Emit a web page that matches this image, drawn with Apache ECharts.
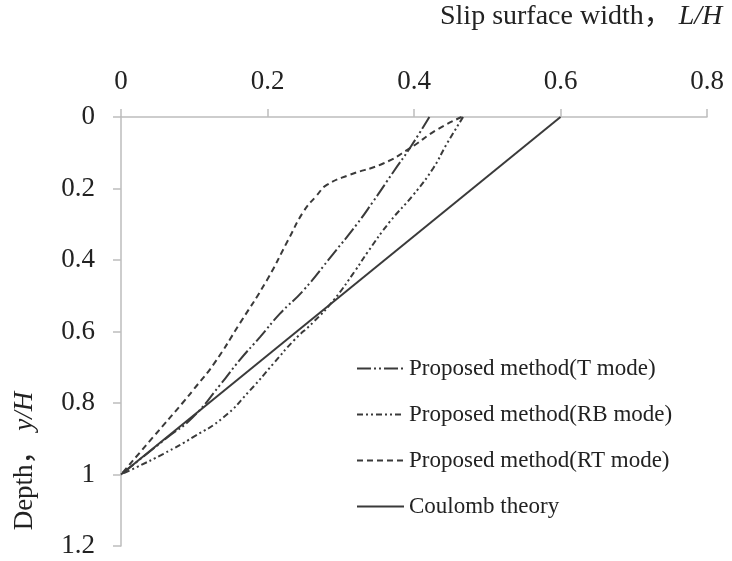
<!DOCTYPE html>
<html>
<head>
<meta charset="utf-8">
<script src="https://cdn.jsdelivr.net/npm/echarts@6/dist/echarts.min.js"></script>
<style>
  html, body { margin: 0; padding: 0; background: #fff; }
  #chart { width: 732px; height: 561px; }
</style>
</head>
<body>
<div id="chart"></div>
<script>
// x ticks (slip surface width L/H) and y ticks (depth y/H)
const widthTicks = [0, 0.2, 0.4, 0.6, 0.8];
const depthTicks = [0, 0.2, 0.4, 0.6, 0.8, 1, 1.2];

const seriesNames = [
    'Proposed method(T mode)',
    'Proposed method(RB mode)',
    'Proposed method(RT mode)',
    'Coulomb theory'
];

// T mode
const depthT = [0, 0.088, 0.153, 0.237, 0.30, 0.382, 0.485, 0.55, 0.615, 0.68, 0.75, 0.84, 0.9, 1.0];
const widthT = [0.421, 0.394, 0.372, 0.344, 0.322, 0.29, 0.249, 0.217, 0.19, 0.162, 0.135, 0.098, 0.061, 0];

// RB mode
const depthRB = [0, 0.078, 0.144, 0.218, 0.293, 0.377, 0.429, 0.513, 0.573, 0.625, 0.69, 0.765, 0.84, 0.895, 0.942, 0.98, 1];
const widthRB = [0.467, 0.444, 0.426, 0.399, 0.367, 0.337, 0.32, 0.29, 0.263, 0.236, 0.208, 0.176, 0.14, 0.099, 0.058, 0.021, 0];

// RT mode
const depthRT = [0, 0.036, 0.088, 0.13, 0.162, 0.19, 0.22, 0.265, 0.345, 0.457, 0.578, 0.69, 0.76, 0.8, 0.895, 1];
const widthRT = [0.465, 0.431, 0.394, 0.358, 0.312, 0.281, 0.267, 0.249, 0.228, 0.199, 0.162, 0.127, 0.1, 0.084, 0.044, 0];

// Coulomb theory
const depthC = [0, 1];
const widthC = [0.6, 0];

const pairs = (w, d) => d.map((v, i) => [w[i], v]);

const serif = '"Liberation Serif", "Times New Roman", "Noto Sans CJK SC", serif';
const lineColor = '#3a3a3a';
const axisColor = '#bdbdbd';

const chart = echarts.init(document.getElementById('chart'));

const mkLine = (name, data, type, smooth) => ({
    name: name,
    type: 'line',
    data: data,
    symbol: 'none',
    smooth: smooth,
    lineStyle: { color: lineColor, width: 2, type: type },
    itemStyle: { color: lineColor },
    animation: false
});

chart.setOption({
    backgroundColor: '#fff',
    grid: { left: 121, right: 25, top: 117, bottom: 15, outerBoundsMode: 'none' },
    xAxis: {
        type: 'value',
        position: 'top',
        min: widthTicks[0],
        max: widthTicks[widthTicks.length - 1],
        interval: 0.2,
        axisLine: { show: true, lineStyle: { color: axisColor, width: 1.5 } },
        axisTick: { show: true, length: 8, lineStyle: { color: axisColor, width: 1.5 } },
        axisLabel: { color: '#222', fontFamily: serif, fontSize: 27, margin: 22 },
        splitLine: { show: false }
    },
    yAxis: {
        type: 'value',
        inverse: true,
        min: depthTicks[0],
        max: depthTicks[depthTicks.length - 1],
        interval: 0.2,
        axisLine: { show: true, lineStyle: { color: axisColor, width: 1.5 } },
        axisTick: { show: true, length: 8, lineStyle: { color: axisColor, width: 1.5 } },
        axisLabel: { color: '#222', fontFamily: serif, fontSize: 27, margin: 26 },
        splitLine: { show: false }
    },
    legend: {
        orient: 'vertical',
        left: 351,
        top: 352,
        itemGap: 23,
        itemWidth: 47,
        itemHeight: 14,
        data: seriesNames,
        itemStyle: { color: 'transparent', borderWidth: 0, opacity: 0 },
        textStyle: { color: '#222', fontFamily: serif, fontSize: 23 }
    },
    graphic: [
        {
            type: 'text',
            left: 440,
            top: 3,
            style: {
                text: 'Slip surface width， {i|L/H}',
                fill: '#222',
                fontFamily: serif,
                fontSize: 28,
                rich: { i: { fontStyle: 'italic', fontFamily: serif, fontSize: 28, fill: '#222' } }
            }
        },
        {
            type: 'text',
            x: 25,
            y: 461,
            rotation: Math.PI / 2,
            style: {
                text: 'Depth， {i|y/H}',
                fill: '#222',
                fontFamily: serif,
                fontSize: 27,
                align: 'center',
                verticalAlign: 'middle',
                rich: { i: { fontStyle: 'italic', fontFamily: serif, fontSize: 27, fill: '#222' } }
            }
        }
    ],
    series: [
        mkLine(seriesNames[0], pairs(widthT, depthT), [14, 3, 2, 3, 2, 3], true),
        mkLine(seriesNames[1], pairs(widthRB, depthRB), [6, 3, 2, 3, 2, 3], true),
        mkLine(seriesNames[2], pairs(widthRT, depthRT), [6, 4], true),
        mkLine(seriesNames[3], pairs(widthC, depthC), 'solid', false)
    ]
});
</script>
</body>
</html>
